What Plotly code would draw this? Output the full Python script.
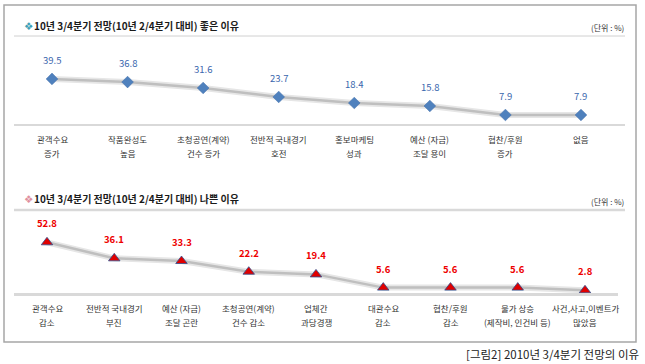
import plotly.graph_objects as go

W, H = 645, 364

good_line1 = ["관객수요", "작품완성도", "초청공연(계약)", "전반적 국내경기", "홍보마케팅", "예산 (자금)", "협찬/후원", "없음"]
good_line2 = ["증가", "높음", "건수 증가", "호전", "성과", "조달 용이", "증가", ""]
good_values = [39.5, 36.8, 31.6, 23.7, 18.4, 15.8, 7.9, 7.9]

bad_line1 = ["관객수요", "전반적 국내경기", "예산 (자금)", "초청공연(계약)", "업체간", "대관수요", "협찬/후원",
             "물가 상승", "사건,사고,이벤트가"]
bad_line2 = ["감소", "부진", "조달 곤란", "건수 감소", "과당경쟁", "감소", "감소", "(제작비, 인건비 등)", "많았음"]
bad_values = [52.8, 36.1, 33.3, 22.2, 19.4, 5.6, 5.6, 5.6, 2.8]

title_good = "10년 3/4분기 전망(10년 2/4분기 대비) 좋은 이유"
title_bad = "10년 3/4분기 전망(10년 2/4분기 대비) 나쁜 이유"
unit_text = "(단위 : %)"
caption = "[그림2] 2010년 3/4분기 전망의 이유"

FONT = "Noto Sans CJK KR"

def px(x):
    return x / W

def py(y):
    return 1 - y / H

gx = list(range(len(good_values)))
bx = list(range(len(bad_values)))

fig = go.Figure()

# top panel
fig.add_trace(go.Scatter(x=gx, y=good_values, mode="lines", line=dict(color="#e6e6e6", width=6),
                         xaxis="x", yaxis="y", hoverinfo="skip", showlegend=False))
fig.add_trace(go.Scatter(x=gx, y=good_values, mode="lines", line=dict(color="#bfbfbf", width=2.5),
                         xaxis="x", yaxis="y", hoverinfo="skip", showlegend=False))
fig.add_trace(go.Scatter(x=gx, y=good_values, mode="markers",
                         marker=dict(symbol="diamond", size=9, color="#4f81bd", line=dict(color="#3d6aa8", width=0.5)),
                         xaxis="x", yaxis="y", showlegend=False))

# bottom panel
fig.add_trace(go.Scatter(x=bx, y=bad_values, mode="lines", line=dict(color="#e6e6e6", width=6),
                         xaxis="x2", yaxis="y2", hoverinfo="skip", showlegend=False))
fig.add_trace(go.Scatter(x=bx, y=bad_values, mode="lines", line=dict(color="#bfbfbf", width=2.5),
                         xaxis="x2", yaxis="y2", hoverinfo="skip", showlegend=False))
fig.add_trace(go.Scatter(x=bx, y=bad_values, mode="markers",
                         marker=dict(symbol="triangle-up", size=10, color="#e00000", line=dict(color="#2f4f8f", width=0.8)),
                         xaxis="x2", yaxis="y2", showlegend=False))

LBL = dict(family=FONT, size=8.5, color="#333333")
annotations = []
for i, v in enumerate(good_values):
    annotations.append(dict(x=i, y=v, xref="x", yref="y", text=f"{v:.1f}", showarrow=False,
                            yshift=19, font=dict(family=FONT, size=9.5, color="#3a66ad")))
for i, v in enumerate(bad_values):
    annotations.append(dict(x=i, y=v, xref="x2", yref="y2", text=f"<b>{v:.1f}</b>", showarrow=False,
                            yshift=19, font=dict(family=FONT, size=9.5, color="#ee0000")))
for i in gx:
    annotations.append(dict(x=i, y=py(139), xref="x", yref="paper", text=good_line1[i], showarrow=False,
                            yanchor="middle", font=LBL))
    if good_line2[i]:
        annotations.append(dict(x=i, y=py(153), xref="x", yref="paper", text=good_line2[i], showarrow=False,
                                yanchor="middle", font=LBL))
for i in bx:
    annotations.append(dict(x=i, y=py(308), xref="x2", yref="paper", text=bad_line1[i], showarrow=False,
                            yanchor="middle", font=LBL))
    annotations.append(dict(x=i, y=py(322), xref="x2", yref="paper", text=bad_line2[i], showarrow=False,
                            yanchor="middle", font=LBL))

annotations += [
    dict(x=px(22), y=py(26), xref="paper", yref="paper", text="❖", showarrow=False, xanchor="left",
         yanchor="middle", font=dict(family="DejaVu Sans", size=10.5, color="#3f9fb5")),
    dict(x=px(32), y=py(26), xref="paper", yref="paper", text=f"<b>{title_good}</b>", showarrow=False,
         xanchor="left", yanchor="middle", font=dict(family=FONT, size=10, color="#1a1a1a")),
    dict(x=px(626), y=py(28), xref="paper", yref="paper", text=unit_text, showarrow=False,
         xanchor="right", yanchor="middle", font=dict(family=FONT, size=8, color="#333333")),
    dict(x=px(22), y=py(199), xref="paper", yref="paper", text="❖", showarrow=False, xanchor="left",
         yanchor="middle", font=dict(family="DejaVu Sans", size=10.5, color="#e0909e")),
    dict(x=px(32), y=py(199), xref="paper", yref="paper", text=f"<b>{title_bad}</b>", showarrow=False,
         xanchor="left", yanchor="middle", font=dict(family=FONT, size=10, color="#1a1a1a")),
    dict(x=px(626), y=py(201), xref="paper", yref="paper", text=unit_text, showarrow=False,
         xanchor="right", yanchor="middle", font=dict(family=FONT, size=8, color="#333333")),
    dict(x=px(641), y=py(354), xref="paper", yref="paper", text=caption, showarrow=False,
         xanchor="right", yanchor="middle", font=dict(family=FONT, size=11.5, color="#222222")),
]

shapes = [
    dict(type="rect", xref="paper", yref="paper", x0=px(4), x1=px(636), y0=py(342), y1=py(5),
         line=dict(color="#a6a6a6", width=1.5)),
    dict(type="line", xref="paper", yref="paper", x0=px(14), x1=px(625), y0=py(36), y1=py(36),
         line=dict(color="#d0d0d0", width=1)),
    dict(type="line", xref="paper", yref="paper", x0=px(14), x1=px(625), y0=py(210), y1=py(210),
         line=dict(color="#d9d9d9", width=2.5)),
]

g_sp = 75.57
b_sp = 67.25
fig.update_layout(
    width=W, height=H, margin=dict(l=0, r=0, t=0, b=0, autoexpand=False),
    paper_bgcolor="white", plot_bgcolor="rgba(0,0,0,0)",
    font=dict(family=FONT),
    xaxis=dict(domain=[px(14), px(625)], range=[(14 - 52) / g_sp, (625 - 52) / g_sp],
               showticklabels=False, ticks="", showgrid=False, zeroline=False,
               showline=True, linecolor="#d9d9d9", linewidth=1.5, automargin=False, anchor="y"),
    yaxis=dict(domain=[py(124), py(40)], range=[0, 84 / 1.14], visible=False, anchor="x"),
    xaxis2=dict(domain=[px(14), px(618)], range=[(14 - 47) / b_sp, (618 - 47) / b_sp],
                showticklabels=False, ticks="", showgrid=False, zeroline=False,
                showline=True, linecolor="#d9d9d9", linewidth=3, automargin=False, anchor="y2"),
    yaxis2=dict(domain=[py(293), py(215)], range=[0, 78 / 0.96], visible=False, anchor="x2"),
    annotations=annotations, shapes=shapes,
)

fig.write_html("out.html", post_script="document.body.style.margin='0px';",
               config={"displayModeBar": False})
